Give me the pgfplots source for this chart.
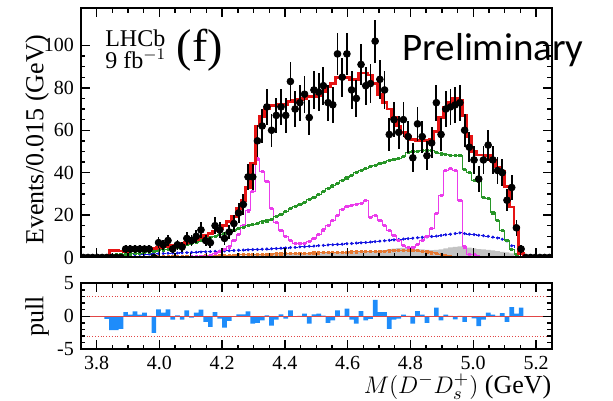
\documentclass[border=0pt]{standalone}
\usepackage{pgfplots}
\pgfplotsset{compat=1.18}
\usepackage{pgfplotstable}
\usepackage{fontspec}
\setmainfont{Liberation Serif}
\newfontfamily\prelimfont{Carlito}

\definecolor{fitred}{RGB}{230,20,20}
\definecolor{cgreen}{RGB}{40,150,40}
\definecolor{cmag}{RGB}{235,60,235}
\definecolor{cblue}{RGB}{20,20,225}
\definecolor{corange}{RGB}{230,120,50}
\definecolor{cgray}{RGB}{195,195,195}
\definecolor{pullblue}{RGB}{30,140,250}
\definecolor{pullred}{RGB}{225,70,70}

% x = bin centre, d/e = data and error, f = total fit, g/m/b/o/s = components, p = pull
\pgfplotstableread{
x d e f g m b o s p
3.7575 0 0 0 0 0 0 0 0 0
3.7725 0 0 0 0 0 0 0 0 0
3.7875 0 0 0 0 0 0 0 0 0
3.8025 0 0 0 0 0 0 0 0 0
3.8175 0 0 0 0 0 0 0 0 0
3.8325 0 0 0.2 0.8 0 0.8 0 0 -0.4
3.8475 0 0 3.3 1.0 0 0.9 0 0 -2.1
3.8625 0 0 3.2 1.2 0 1.0 0 0 -2.1
3.8775 0 0 3.1 1.3 0 1.1 0 0 -1.9
3.8925 4 2.0 3.0 1.5 0 1.2 0 0 0.65
3.9075 4 2.0 3.2 1.7 0 1.2 0 0 0.25
3.9225 4 2.0 3.3 1.9 0 1.3 0 0 0.75
3.9375 4 2.0 3.5 2.1 0 1.4 0 0 0.25
3.9525 4 2.0 3.8 2.3 0 1.5 0 0 0.55
3.9675 4 2.0 4.0 2.6 0 1.6 0 0 0.05
3.9825 0 0 4.3 2.9 0 1.7 0.2 0 -2.5
3.9975 7 2.6 4.6 3.2 0 1.8 0.24 0 1.05
4.0125 6 2.4 5.0 3.6 0 1.9 0.28 0 0.55
4.0275 8 2.8 5.3 4.0 0 2.0 0.32 0 1.05
4.0425 4 2.0 5.6 4.4 0 2.1 0.36 0 -0.5
4.0575 6 2.4 6.0 4.9 0 2.1 0.4 0 0.15
4.0725 5 2.2 6.5 5.4 0 2.2 0.46 0 -0.5
4.0875 9 3.0 7.0 6.0 0.2 2.3 0.52 0 0.9
4.1025 8 2.8 7.8 6.6 0.3 2.4 0.58 0 -0.2
4.1175 10 3.2 8.5 7.3 0.4 2.5 0.64 0 0.55
4.1325 13 3.6 9.5 8.0 0.5 2.6 0.7 0.3 1.0
4.1475 8 2.8 10.5 8.7 0.6 2.7 0.76 0.4 -0.85
4.1625 7 2.6 11.5 9.4 0.8 2.8 0.82 0.4 -1.6
4.1775 15 3.9 12.5 10.1 2.0 2.9 0.88 0.5 0.65
4.1925 13 3.6 13.5 10.8 3.0 3.0 0.94 0.6 -0.35
4.2075 9 3.0 15 11.5 4.0 3.1 1.0 0.6 -1.7
4.2225 12 3.5 17 12.2 5.0 3.2 1.06 0.7 -0.7
4.2375 16 4.0 19.5 12.9 8.0 3.3 1.12 0.8 -0.1
4.2525 21 4.6 23 13.6 11 3.4 1.18 0.9 0.3
4.2675 25 5.0 27 14.3 15 3.5 1.24 0.9 0.3
4.2825 38 6.2 33 15.0 22 3.6 1.3 1.0 0.75
4.2975 38 6.2 44.5 15.6 31 3.7 1.36 1.1 -1.1
4.3125 55 7.4 62 16.2 46.5 3.8 1.42 1.2 -1.0
4.3275 62 7.9 66.5 16.8 40.5 3.9 1.48 1.3 -0.6
4.3425 71 8.4 70 17.3 36 4.0 1.54 1.4 0.15
4.3575 60 7.7 71.5 17.9 23 4.1 1.6 1.5 -1.4
4.3725 67 8.2 71.5 19.3 16.7 4.2 1.66 1.6 -0.5
4.3875 71 8.4 72 20.5 12.8 4.4 1.72 1.6 0.3
4.4025 67 8.2 72 21.8 10 4.5 1.78 1.7 -0.35
4.4175 83 9.1 73.5 23.0 8 4.7 1.84 1.8 0.9
4.4325 70 8.4 74 24.0 6.8 4.8 1.9 1.8 -0.1
4.4475 73 8.5 74.5 25.0 6.5 5.0 1.96 1.9 0.05
4.4625 77 8.8 75 26.0 6.8 5.1 2.02 1.9 0.4
4.4775 66 8.1 76 27.3 7.5 5.3 2.08 2.0 -1.1
4.4925 79 8.9 76 28.5 9 5.4 2.14 2.0 0.3
4.5075 78 8.8 76.5 29.7 11 5.6 2.2 2.0 0.4
4.5225 81 9.0 78 31.0 13 5.7 2.26 2.1 0.1
4.5375 73 8.5 80.5 32.5 15 5.9 2.32 2.2 -1.0
4.5525 72 8.5 82 33.8 17.5 6.0 2.38 2.2 -0.6
4.5675 96 9.8 85 35.0 20 6.2 2.44 2.3 0.9
4.5825 85 9.2 85 36.3 22.5 6.3 2.5 2.3 0.05
4.5975 96 9.8 85 37.5 24 6.5 2.56 2.4 1.15
4.6125 79 8.9 84 38.8 24.6 6.6 2.62 2.5 -0.5
4.6275 75 8.7 84 40.0 25 6.8 2.68 2.5 -1.1
4.6425 91 9.5 87 41.2 25.4 6.9 2.74 2.6 0.8
4.6575 81 9.0 87 42.0 27 7.1 2.8 2.6 -0.6
4.6725 82 9.1 86 42.8 19 7.3 2.86 2.8 -0.4
4.6875 102 10.1 82 43.6 20 7.5 2.92 3.0 2.5
4.7025 84 9.2 77 44.3 17.5 7.7 2.98 3.2 0.65
4.7175 79 8.9 73 45.0 15 7.9 3.04 3.5 0.65
4.7325 58 7.6 70 45.8 12.8 8.1 3.1 3.9 -1.9
4.7475 65 8.1 66 46.4 10.4 8.3 3.2 4.2 -0.5
4.7625 59 7.7 62 46.8 8 8.5 3.3 4.4 -0.35
4.7775 65 8.1 59 47.5 5.7 8.7 3.4 4.5 0.25
4.7925 57 7.5 57 49.5 4.9 8.9 3.4 4.4 0.05
4.8075 47 6.9 55.5 50.0 4.9 9.1 3.4 4.3 -1.1
4.8225 63 7.9 55 50.2 6.3 9.3 3.3 4.0 0.8
4.8375 57 7.5 55 50.4 8 9.5 3.0 3.8 0.25
4.8525 48 6.9 55 50.5 10 9.7 2.6 3.6 -1.0
4.8675 54 7.3 55.5 50.5 13.6 9.9 2.2 3.5 -0.05
4.8825 73 8.5 59.5 49.5 20.7 10.1 1.8 3.6 1.3
4.8975 58 7.6 66 48.8 29.3 10.4 1.3 3.8 -0.6
4.9125 70 8.4 71 48.5 41 10.7 0.9 4.3 0.25
4.9275 71 8.4 73 48.0 42 11.0 0.5 4.8 0.05
4.9425 72 8.5 75 48.0 41 11.3 0.2 5.0 -0.45
4.9575 73 8.5 74 48.2 27 11.6 0 5.2 0.05
4.9725 60 7.7 67 41.5 5 11.3 0 4.9 -0.85
4.9875 52 7.2 57 40.0 1.5 11.0 0 4.6 -0.1
5.0025 46 6.8 50 36.5 1.2 10.8 0 4.3 -0.3
5.0175 37 6.1 48.3 36.0 0.5 10.5 0 4.0 -1.5
5.0325 46 6.8 48.3 28.5 0 10.3 0 3.8 -0.5
5.0475 53 7.3 48 28.0 0 10.0 0 3.6 0.55
5.0625 46 6.8 45.9 21.0 0 9.6 0 3.3 0.25
5.0775 41 6.4 42.7 17.5 0 9.2 0 3.0 0.05
5.0925 40 6.3 40.4 12.8 0 8.6 0 2.7 0.5
5.1075 27 5.2 33.3 8.0 0 7.8 0 2.4 -0.85
5.1225 33 5.7 23.8 4.0 0 5.5 0 2.0 1.4
5.1375 14 3.7 14.3 1.5 0 1.0 0 0.5 0.4
5.1525 4 2.0 2 0 0 0 0 0 1.3
5.1675 0 0 0 0 0 0 0 0 0
5.1825 0 0 0 0 0 0 0 0 0
5.1975 0 0 0 0 0 0 0 0 0
5.2125 0 0 0 0 0 0 0 0 0
5.2275 0 0 0 0 0 0 0 0 0
5.2425 0 0 0 0 0 0 0 0 0
}\fitdata

\pgfplotsset{
  lhcb/.style={
    scale only axis, width=235.4pt,
    xmin=3.75, xmax=5.25,
    xtick={3.8,4.0,4.2,4.4,4.6,4.8,5.0,5.2}, minor x tick num=3,
    tick align=inside, major tick length=4.5pt, minor tick length=2.2pt,
    axis line style={line width=1pt},
    every tick/.append style={black, line width=0.7pt},
    ticklabel style={font=\fontsize{10}{12}\selectfont},
    /pgf/number format/assume math mode=true,
    label style={font=\fontsize{13}{15}\selectfont},
    axis on top, clip mode=individual, clip marker paths=true,
  },
  hist/.style={const plot, line width=0.5pt},
  hmark/.style={only marks, mark=square*, mark size=0.55pt, restrict y to domain=0.05:200},
}

\begin{document}
\begin{tikzpicture}
\begin{axis}[lhcb, name=main, at={(0pt,0pt)}, anchor=south west,
    height=124.6pt, ymin=0, ymax=117.5,
    ytick={0,20,40,60,80,100}, minor y tick num=3,
    xticklabels={},
    ylabel={Events/0.015 (GeV)},
    ylabel style={at={(axis description cs:-0.093,0.4715)}, anchor=center}]
% gray background
\addplot[const plot, fill=cgray, draw=none, restrict x to domain=4.103:5.152]
  table[x expr=\thisrow{x}-0.0075, y=s] {\fitdata} \closedcycle;
% orange
\addplot[hist, corange, restrict x to domain=3.953:4.957] table[x expr=\thisrow{x}-0.0075, y=o] {\fitdata};
\addplot[hmark, corange] table[x=x, y=o] {\fitdata};
% blue dashed
\addplot[hist, cblue, dash pattern=on 2pt off 1pt, restrict x to domain=3.803:5.152] table[x expr=\thisrow{x}-0.0075, y=b] {\fitdata};
\addplot[hmark, cblue, mark=*] table[x=x, y=b] {\fitdata};
% magenta
\addplot[hist, cmag, restrict x to domain=4.058:5.032] table[x expr=\thisrow{x}-0.0075, y=m] {\fitdata};
\addplot[hmark, cmag] table[x=x, y=m] {\fitdata};
% green
\addplot[hist, cgreen, restrict x to domain=3.803:5.152] table[x expr=\thisrow{x}-0.0075, y=g] {\fitdata};
\addplot[hmark, cgreen] table[x=x, y=g] {\fitdata};
% total fit
\addplot[const plot, fitred, line width=1.4pt, restrict x to domain=3.803:5.167] table[x expr=\thisrow{x}-0.0075, y=f] {\fitdata};
% data
\addplot[black, only marks, mark=*, mark size=1.7pt,
  error bars/.cd, y dir=both, y explicit, error mark=none,
  error bar style={line width=0.9pt, black}]
  table[x=x, y=d, y error=e] {\fitdata};

\node[anchor=base west, inner sep=0pt, font=\fontsize{12}{14}\selectfont] at (rel axis cs:0.051,0.846) {LHCb};
\node[anchor=base west, inner sep=0pt, font=\fontsize{12}{14}\selectfont] at (rel axis cs:0.051,0.760) {9 fb$^{-1}$};
\node[anchor=base west, inner sep=0pt, font=\fontsize{23}{27}\selectfont] at (rel axis cs:0.203,0.787) {(f)};
\node[anchor=base west, inner sep=0pt, font=\prelimfont\fontsize{19.5}{22}\selectfont] at (rel axis cs:0.682,0.7925) {Preliminary};
\end{axis}

\begin{axis}[lhcb, at={(0pt,-12.9pt)}, anchor=north west,
    height=33pt, ymin=-5, ymax=5,
    ytick={-5,0,5}, minor y tick num=4,
    xticklabel style={/pgf/number format/.cd, fixed, fixed zerofill, precision=1},
    ylabel={pull},
    ylabel style={at={(axis description cs:-0.093,0.5)}, anchor=center},
    xlabel={$M(D^{-}D_{s}^{+})$ (GeV)},
    xlabel style={at={(axis description cs:1,0)}, anchor=north east, yshift=-12pt, inner sep=0pt}]
\addplot[ybar, bar width=0.015, fill=pullblue, draw=none] table[x=x, y=p] {\fitdata};
\addplot[pullred, line width=0.5pt] coordinates {(3.75,0) (5.25,0)};
\addplot[pullred, densely dotted, line width=0.4pt] coordinates {(3.75,3) (5.25,3)};
\addplot[pullred, densely dotted, line width=0.4pt] coordinates {(3.75,-3) (5.25,-3)};
\end{axis}

\pgfresetboundingbox
\path[use as bounding box] (-40.45pt,-71.25pt) rectangle (266.05pt,128.75pt);
\end{tikzpicture}
\end{document}
